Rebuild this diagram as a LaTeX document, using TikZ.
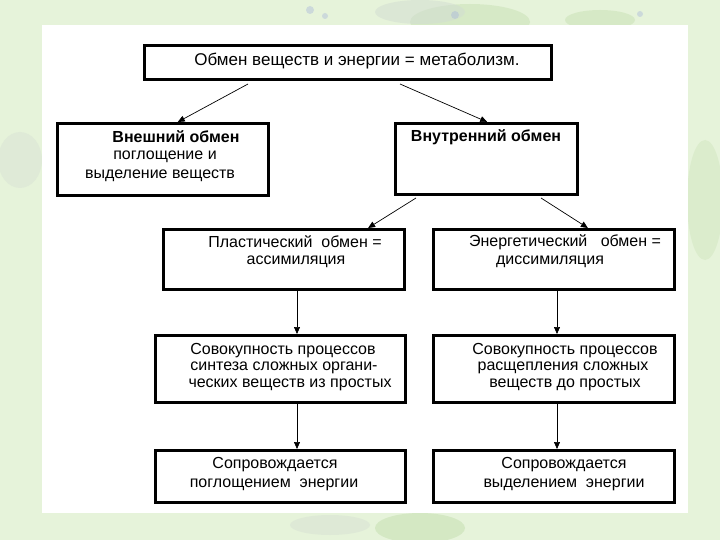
\documentclass[tikz,border=0pt]{standalone}
\usepackage{fontspec}
\setmainfont{Liberation Sans}
\usetikzlibrary{arrows.meta,calc}
\definecolor{bggreen}{RGB}{230,243,218}
\definecolor{leafgreen}{RGB}{200,225,180}
\definecolor{leafgrey}{RGB}{210,220,210}
\definecolor{flowerblue}{RGB}{165,180,220}
\begin{document}
\begin{tikzpicture}[x=1pt,y=-1pt,
  box/.style={draw,line width=2.6pt,rectangle,anchor=north west,inner sep=0pt},
  txt/.style={inner sep=0pt,font=\fontsize{16}{18}\selectfont},
  btxt/.style={txt,font=\fontsize{16}{18}\selectfont\bfseries},
  arr/.style={-{Triangle[length=7pt,width=6pt]},line width=0.7pt}]
\useasboundingbox (0,0) rectangle (720,540);
% background
\fill[bggreen] (0,0) rectangle (720,540);
\fill[leafgreen,opacity=0.5] (470,22) ellipse (60pt and 18pt);
\fill[leafgrey,opacity=0.5] (420,12) ellipse (45pt and 12pt);
\fill[leafgreen,opacity=0.5] (600,20) ellipse (35pt and 10pt);
\fill[flowerblue,opacity=0.4] (310,10) circle (4pt);
\fill[flowerblue,opacity=0.4] (325,16) circle (3pt);
\fill[flowerblue,opacity=0.4] (455,15) circle (4pt);
\fill[flowerblue,opacity=0.4] (640,14) circle (3pt);
\fill[leafgrey,opacity=0.35] (20,160) ellipse (22pt and 28pt);
\fill[leafgreen,opacity=0.35] (705,200) ellipse (18pt and 60pt);
\fill[leafgreen,opacity=0.6] (420,528) ellipse (45pt and 15pt);
\fill[leafgrey,opacity=0.4] (330,525) ellipse (40pt and 10pt);
% white panel
\fill[white] (42,25) rectangle (688,513);
% boxes
\node[box,minimum width=407pt,minimum height=34pt] (top) at (143,44) {};
\node[box,minimum width=211pt,minimum height=72pt] (ext) at (56,122) {};
\node[box,minimum width=182pt,minimum height=71pt] (int) at (394,122) {};
\node[box,minimum width=241pt,minimum height=60pt] (plast) at (162,228) {};
\node[box,minimum width=241pt,minimum height=60pt] (energ) at (432,228) {};
\node[box,minimum width=250pt,minimum height=67pt] (synth) at (154,334) {};
\node[box,minimum width=241pt,minimum height=67pt] (decomp) at (432,334) {};
\node[box,minimum width=250pt,minimum height=52pt] (absorb) at (154,449) {};
\node[box,minimum width=241pt,minimum height=52pt] (release) at (432,449) {};
% texts
\node[txt,font=\fontsize{17}{19}\selectfont] (topt) at (357,61) {Обмен веществ и энергии = метаболизм.};
\node[btxt] (ext1) at (176,137) {Внешний обмен};
\node[txt] (ext2) at (165,157) {поглощение и};
\node[txt] (ext3) at (160,176) {выделение веществ};
\node[btxt] (int1) at (486,137) {Внутренний обмен};
\node[txt] (pl1) at (295,242) {Пластический\ \ обмен =};
\node[txt] (pl2) at (296,262) {ассимиляция};
\node[txt] (en1) at (565,242) {Энергетический\ \ \ обмен =};
\node[txt] (en2) at (550,262) {диссимиляция};
\node[txt] (sy1) at (283,351) {Совокупность процессов};
\node[txt] (sy2) at (284,368) {синтеза сложных\ органи-};
\node[txt] (sy3) at (290,385) {ческих веществ из простых};
\node[txt] (de1) at (565,351) {Совокупность процессов};
\node[txt] (de2) at (563,368) {расщепления сложных};
\node[txt] (de3) at (565,385) {веществ до простых};
\node[txt] (ab1) at (275,465) {Сопровождается};
\node[txt] (ab2) at (274,485) {поглощением\ \ энергии};
\node[txt] (re1) at (564,465) {Сопровождается};
\node[txt] (re2) at (564,485) {выделением\ \ энергии};
% connectors
\coordinate (s1) at (248,84);
\coordinate (s2) at (400,84);
\coordinate (s3) at (416,198);
\coordinate (s4) at (541,198);
\coordinate (xl) at (297,0);
\coordinate (xr) at (557,0);
\draw[arr] (s1) -- ($(ext.north west)!0.57!(ext.north east)$);
\draw[arr] (s2) -- ($(int.north west)!0.505!(int.north east)$);
\draw[arr] (s3) -- ($(plast.north west)!0.846!(plast.north east)$);
\draw[arr] (s4) -- ($(energ.north west)!0.64!(energ.north east)$);
\draw[arr] (plast.south -| xl) -- (synth.north -| xl);
\draw[arr] (energ.south -| xr) -- (decomp.north -| xr);
\draw[arr] (synth.south -| xl) -- (absorb.north -| xl);
\draw[arr] (decomp.south -| xr) -- (release.north -| xr);
\end{tikzpicture}
\end{document}
